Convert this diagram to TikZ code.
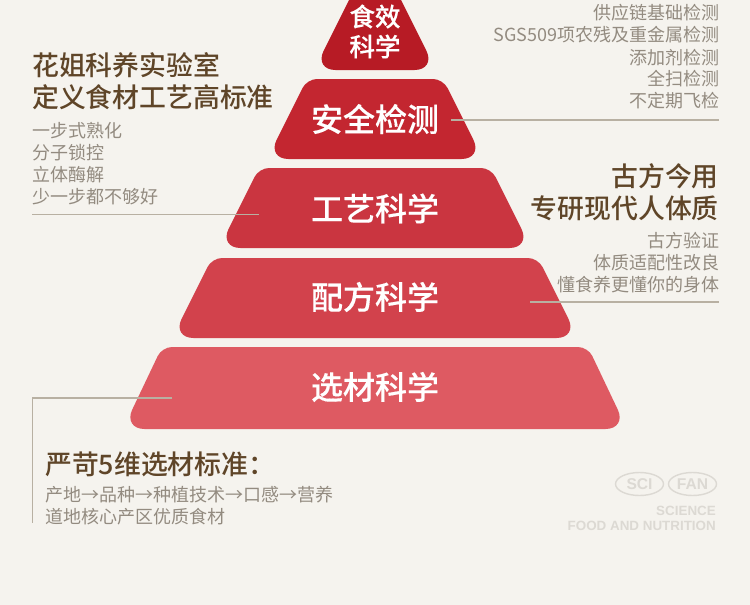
\documentclass[tikz,border=0pt]{standalone}
\usepackage{fontspec}
\setmainfont{Noto Sans CJK SC}
\newfontfamily\medfont{Noto Sans CJK SC Medium}
\newfontfamily\boldcjk{Noto Sans CJK SC Medium}[FakeBold=0.3]
\newfontfamily\latinbold{Liberation Sans}
\usetikzlibrary{shapes.geometric}
\definecolor{bgc}{HTML}{F5F3EE}
\definecolor{tierA}{HTML}{B71B25}
\definecolor{tierB}{HTML}{C32630}
\definecolor{tierC}{HTML}{CA3540}
\definecolor{tierD}{HTML}{D2424C}
\definecolor{tierE}{HTML}{DE5A62}
\definecolor{headc}{HTML}{5F4528}
\definecolor{bodyc}{HTML}{938B80}
\definecolor{rulec}{HTML}{B8B0A2}
\definecolor{logoc}{HTML}{DCD9D3}
\tikzset{
  tierlabel/.style={text=white,inner sep=0pt,anchor=center,font=\boldcjk\fontsize{32}{32}\selectfont},
  toplabel/.style={text=white,inner sep=0pt,anchor=center,font=\boldcjk\fontsize{25.5}{25.5}\selectfont},
  head/.style={text=headc,inner sep=0pt,font=\medfont\fontsize{26.85}{26.85}\selectfont},
  body/.style={text=bodyc,inner sep=0pt,font=\fontsize{18}{18}\selectfont},
  rulel/.style={draw=rulec,line width=1.3pt},
  logoring/.style={ellipse,draw=logoc,line width=1.4pt,minimum width=48pt,minimum height=23pt,inner sep=0pt,text=logoc,font=\latinbold\bfseries\fontsize{15.6}{15.6}\selectfont},
  logotext/.style={text=logoc,inner sep=0pt,anchor=east,font=\latinbold\bfseries\fontsize{13.4}{13.4}\selectfont}
}
\begin{document}
\begin{tikzpicture}[x=1pt,y=-1pt]
\useasboundingbox (0,0) rectangle (750,605);
\fill[bgc] (0,0) rectangle (750,605);
% tiers
\fill[tierA] (349,0) -- (401,0) [rounded corners=21.5pt] -- (436,70) -- (314,70) [sharp corners] -- cycle;
\fill[tierB] (375,79) [rounded corners=10pt] -- (443,79) [rounded corners=21.5pt] -- (483,159) -- (267,159) [rounded corners=10pt] -- (307,79) -- cycle;
\fill[tierC] (375,168) [rounded corners=10pt] -- (491,168) [rounded corners=21.5pt] -- (531,248) -- (219,248) [rounded corners=10pt] -- (259,168) -- cycle;
\fill[tierD] (375,258) [rounded corners=10pt] -- (538,258) [rounded corners=21.5pt] -- (578,338) -- (172,338) [rounded corners=10pt] -- (212,258) -- cycle;
\fill[tierE] (375,347) [rounded corners=10pt] -- (588,347) [rounded corners=21.5pt] -- (627,429) -- (123,429) [rounded corners=10pt] -- (162,347) -- cycle;
% tier labels
\node[toplabel] (t1a) at (375,16.5) {食效};
\node[toplabel] (t1b) at (375,46.5) {科学};
\node[tierlabel] (t2) at (375,119) {安全检测};
\node[tierlabel] (t3) at (375,208.5) {工艺科学};
\node[tierlabel] (t4) at (375,297) {配方科学};
\node[tierlabel] (t5) at (375,387) {选材科学};
% leader lines
\coordinate (r2a) at (451,120); \coordinate (r2b) at (719,120);
\coordinate (r3a) at (32,214.5); \coordinate (r3b) at (259,214.5);
\coordinate (r4a) at (530,302); \coordinate (r4b) at (719,302);
\coordinate (r5a) at (172,398); \coordinate (r5b) at (32.5,398); \coordinate (r5c) at (32.5,523);
\draw[rulel] (r2a) -- (r2b);
\draw[rulel] (r3a) -- (r3b);
\draw[rulel] (r4a) -- (r4b);
\draw[rulel] (r5a) -- (r5b) -- (r5c);
% top-right list
\node[body,anchor=east] (a1) at (719.5,13) {供应链基础检测};
\node[body,anchor=east] (a2) at (719.5,35) {SGS509项农残及重金属检测};
\node[body,anchor=east] (a3) at (719.5,57.5) {添加剂检测};
\node[body,anchor=east] (a4) at (719.5,79) {全扫检测};
\node[body,anchor=east] (a5) at (719.5,101) {不定期飞检};
% left block
\node[head,anchor=west] (b1) at (32,65) {花姐科养实验室};
\node[head,anchor=west] (b2) at (32,97) {定义食材工艺高标准};
\node[body,anchor=west] (b3) at (32,131) {一步式熟化};
\node[body,anchor=west] (b4) at (32,153) {分子锁控};
\node[body,anchor=west] (b5) at (32,175) {立体酶解};
\node[body,anchor=west] (b6) at (32,197) {少一步都不够好};
% right block
\node[head,anchor=east] (c1) at (719,176) {古方今用};
\node[head,anchor=east] (c2) at (719,208) {专研现代人体质};
\node[body,anchor=east] (c3) at (719.5,241) {古方验证};
\node[body,anchor=east] (c4) at (719.5,262.5) {体质适配性改良};
\node[body,anchor=east] (c5) at (719.5,284.5) {懂食养更懂你的身体};
% bottom block
\node[head,anchor=west] (d1) at (45,464) {严苛5维选材标准：};
\node[body,anchor=west] (d2) at (45,495) {产地→品种→种植技术→口感→营养};
\node[body,anchor=west] (d3) at (45,517) {道地核心产区优质食材};
% logo
\node[logoring] (sci) at (639.5,484) {SCI};
\node[logoring] (fan) at (692.5,484) {FAN};
\node[logotext] (l1) at (716,511) {SCIENCE};
\node[logotext] (l2) at (716,525.5) {FOOD AND NUTRITION};
\end{tikzpicture}
\end{document}
